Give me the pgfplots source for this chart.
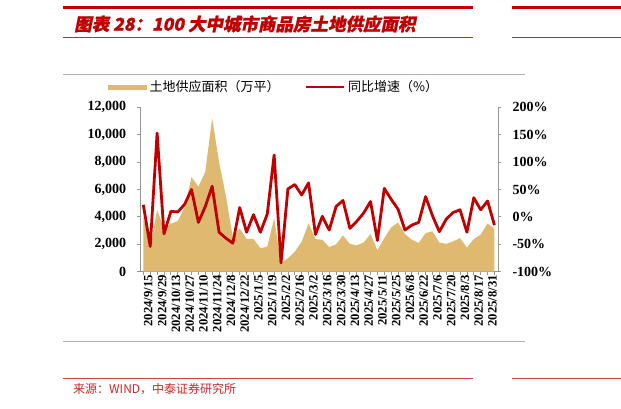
\documentclass[border=0pt]{standalone}
\usepackage{pgfplots}
\pgfplotsset{compat=1.18}
\usepackage{fontspec}
\setmainfont{Liberation Serif}
\newfontfamily\cjk{Noto Sans CJK SC}
\newfontfamily\titlefont[FakeSlant=0.2,FakeBold=1.2]{Noto Sans CJK SC}

\definecolor{landtan}{RGB}{223,185,112}
\definecolor{yoyred}{RGB}{192,0,0}
\definecolor{hdrred}{RGB}{192,0,0}
\definecolor{axgray}{RGB}{150,150,150}

% weekly data: index, land supply (10k m2), yoy (%)
\pgfplotstableread{
i area yoy
0 4100 22
1 1700 -54
2 4500 153
3 3200 -31
4 3500 10
5 3700 9
6 4700 23
7 6900 50
8 6200 -10
9 7300 19
10 11200 56
11 8000 -28
12 5500 -39
13 2500 -48
14 3150 17
15 2400 -28
16 2400 4
17 1710 -28
18 1830 5
19 3900 113
20 610 -84
21 980 51
22 1460 59
23 2190 40
24 3530 62
25 2380 -32
26 2330 1
27 1790 -24
28 2000 19
29 2640 30
30 2030 -21
31 1920 -8
32 2130 7
33 2750 28
34 1570 -43
35 2450 52
36 3230 32
37 3590 14
38 2750 -24
39 2330 -15
40 2100 -10
41 2820 37
42 2950 2
43 2130 -27
44 2030 -4
45 2210 8
46 2460 13
47 1760 -28
48 2380 35
49 2710 13
50 3520 29
51 3130 -15
}\landdata

\begin{document}
\begin{tikzpicture}[x=1pt,y=1pt]
\path[use as bounding box] (0,0) rectangle (621,409);

% page furniture
\draw[hdrred, line width=2.7pt] (62.7,401.5) -- (472.7,401.5);
\draw[hdrred, line width=2.7pt] (511.7,401.5) -- (621,401.5);
\draw[hdrred!85, line width=0.9pt] (62.7,371.7) -- (472.7,371.7);
\draw[hdrred!85, line width=0.9pt] (511.7,371.7) -- (621,371.7);
\node[anchor=west, inner sep=0pt, text=hdrred, font=\titlefont\bfseries\fontsize{17.5}{17.5}\selectfont]
  at (74,385) {图表 28：100 大中城市商品房土地供应面积};
\draw[black!30, line width=0.8pt] (62.7,334.7) -- (525,334.7);
\draw[black!30, line width=0.8pt] (62.7,68) -- (525,68);
\draw[hdrred!75, line width=1.2pt] (62.7,30.7) -- (472.7,30.7);
\draw[hdrred!75, line width=1.2pt] (511.7,30.7) -- (621,30.7);
\node[anchor=west, inner sep=0pt, text=hdrred!85, font=\cjk\fontsize{12}{12}\selectfont]
  at (73,20) {来源：WIND，中泰证券研究所};

\pgfplotsset{
  every axis/.append style={
    at={(140.3pt,137.3pt)}, anchor=south west,
    scale only axis, width=358pt, height=164.4pt,
    xmin=-0.44, xmax=51.56,
    axis line style={axgray, line width=0.8pt},
    tick style={axgray, line width=0.8pt},
    tick align=outside,
    major tick length=3pt, minor tick length=3pt,
    scaled y ticks=false,
    /pgf/number format/assume math mode=true,
  }
}

\begin{axis}[
  axis x line*=bottom, axis y line*=left,
  ymin=0, ymax=12000,
  ytick={0,2000,...,12000},
  yticklabels={{0},{2,000},{4,000},{6,000},{8,000},{10,000},{12,000}},
  yticklabel style={font=\bfseries\fontsize{14}{14}\selectfont, anchor=east, inner sep=0pt, xshift=-11pt},
  xtick={0,2,...,50},
  minor xtick={1,3,...,51},
  xticklabels={2024/9/15,2024/9/29,2024/10/13,2024/10/27,2024/11/10,2024/11/24,2024/12/8,2024/12/22,2025/1/5,2025/1/19,2025/2/2,2025/2/16,2025/3/2,2025/3/16,2025/3/30,2025/4/13,2025/4/27,2025/5/11,2025/5/25,2025/6/8,2025/6/22,2025/7/6,2025/7/20,2025/8/3,2025/8/17,2025/8/31},
  xticklabel style={font=\bfseries\fontsize{12.7}{12.7}\selectfont, rotate=90, anchor=east, inner sep=0pt, yshift=-5pt},
]
\addplot[fill=landtan, draw=none] table[x=i, y=area] {\landdata} \closedcycle;
\end{axis}

\begin{axis}[
  axis x line=none, axis y line*=right,
  ymin=-100, ymax=200,
  ytick={-100,-50,...,200},
  yticklabels={-100\%,-50\%,0\%,50\%,100\%,150\%,200\%},
  yticklabel style={font=\bfseries\fontsize{14}{14}\selectfont, anchor=west, inner sep=0pt, xshift=11pt},
  legend style={at={(-0.0902,1.1235)}, anchor=west, draw=none, fill=none,
    font=\cjk\fontsize{13}{13}\selectfont, inner sep=0pt,
    nodes={inner xsep=3pt, inner ysep=0pt},
    /tikz/every even column/.append style={column sep=22pt}},
  legend columns=2,
  legend cell align=left,
]
\addlegendimage{legend image code/.code={\fill[landtan] (0pt,-2.2pt) rectangle (38pt,2.2pt);}}
\addlegendentry{土地供应面积（万平）}
\addplot[yoyred, line width=2.8pt, line join=round,
  legend image code/.code={\draw[yoyred, line width=2.5pt] (0pt,0pt) -- (38pt,0pt);}]
  table[x=i, y=yoy] {\landdata};
\addlegendentry{同比增速（\%）}
\end{axis}
\end{tikzpicture}
\end{document}
